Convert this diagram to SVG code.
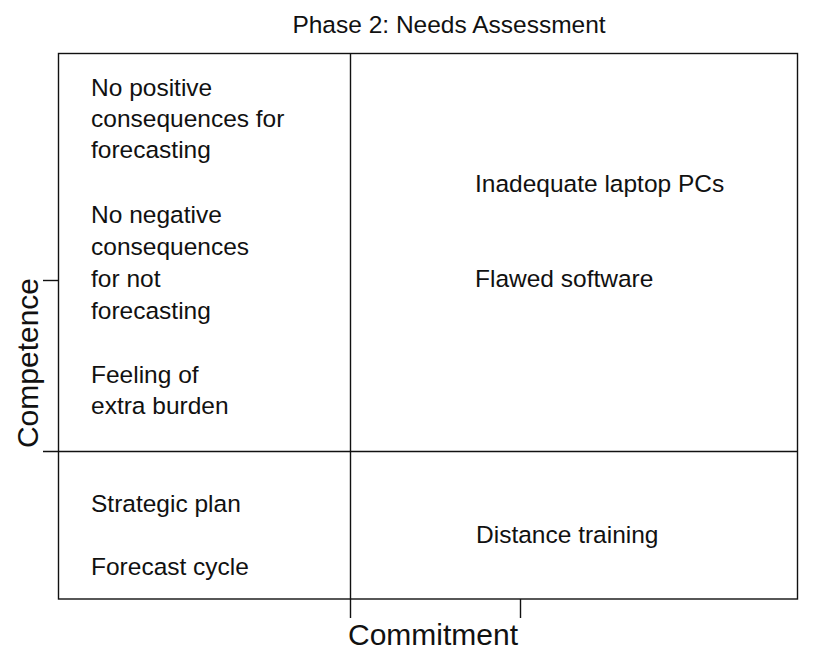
<svg xmlns="http://www.w3.org/2000/svg" width="824" height="653" viewBox="0 0 824 653">
<style>
text{font-family:"Liberation Sans",Arial,sans-serif;fill:#111}
.q{font-size:24.5px}
.t{font-size:24.5px}
.ax{font-size:30px}
.ln{stroke:#111;stroke-width:1.4;fill:none}
</style>
<rect width="824" height="653" fill="#fff"/>
<text class="t" x="449" y="33" text-anchor="middle">Phase 2: Needs Assessment</text>
<g id="connectors">
<rect class="ln" x="58.5" y="53.5" width="739" height="545.5"/>
<line class="ln" x1="350.5" y1="53.5" x2="350.5" y2="618"/>
<line class="ln" x1="43" y1="451.5" x2="797.5" y2="451.5"/>
<line class="ln" x1="43" y1="280.5" x2="58.5" y2="280.5"/>
<line class="ln" x1="520.5" y1="599" x2="520.5" y2="618"/>
</g>
<g id="q-top-left">
<text class="q" x="91" y="96">No positive</text>
<text class="q" x="91" y="127">consequences for</text>
<text class="q" x="91" y="158">forecasting</text>
<text class="q" x="91" y="223">No negative</text>
<text class="q" x="91" y="255">consequences</text>
<text class="q" x="91" y="287">for not</text>
<text class="q" x="91" y="319">forecasting</text>
<text class="q" x="91" y="383">Feeling of</text>
<text class="q" x="91" y="414">extra burden</text>
</g>
<g id="q-top-right">
<text class="q" x="475" y="192">Inadequate laptop PCs</text>
<text class="q" x="475" y="287">Flawed software</text>
</g>
<g id="q-bottom-left">
<text class="q" x="91" y="512">Strategic plan</text>
<text class="q" x="91" y="575">Forecast cycle</text>
</g>
<g id="q-bottom-right">
<text class="q" x="476" y="543">Distance training</text>
</g>
<g id="axis-x"><text class="ax" x="433" y="645" text-anchor="middle">Commitment</text></g>
<g id="axis-y"><text class="ax" transform="translate(38,363) rotate(-90)" text-anchor="middle">Competence</text></g>
</svg>
